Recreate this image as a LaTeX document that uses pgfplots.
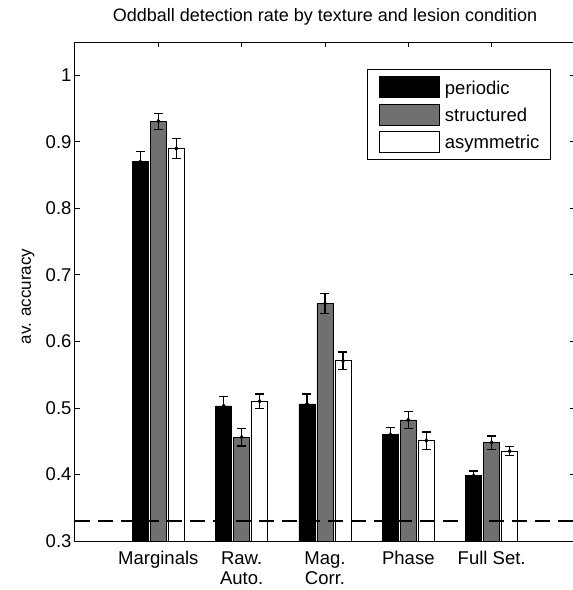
\documentclass[border=0pt]{standalone}
\usepackage{pgfplots}
\pgfplotsset{compat=1.18}
\usepackage{pgfplotstable}
\usepackage{fontspec}
\setmainfont{Liberation Sans}
\definecolor{midgray}{RGB}{112,112,112}

\pgfplotstableread{
x y e
1 0.870 0.015
2 0.503 0.014
3 0.506 0.015
4 0.460 0.011
5 0.398 0.007
}\periodic
\pgfplotstableread{
x y e
1 0.931 0.012
2 0.456 0.013
3 0.657 0.015
4 0.482 0.013
5 0.448 0.010
}\structured
\pgfplotstableread{
x y e
1 0.890 0.015
2 0.510 0.011
3 0.571 0.013
4 0.451 0.013
5 0.435 0.007
}\asymmetric

\begin{document}
\begin{tikzpicture}
\begin{axis}[
  name=ax,
  scale only axis, width=500pt, height=499pt,
  xmin=0, xmax=6, ymin=0.3, ymax=1.05,
  xtick={1,2,3,4,5},
  xticklabels={Marginals,{Raw.\\Auto.},{Mag.\\Corr.},Phase,{Full Set.}},
  ytick={0.3,0.4,0.5,0.6,0.7,0.8,0.9,1},
  /pgf/number format/assume math mode=true,
  xticklabel style={align=center, font=\fontsize{18.5}{20.5}\selectfont, yshift=-7pt},
  yticklabel style={font=\fontsize{18.5}{22}\selectfont},
  axis line style={line width=1pt, black},
  major tick length=5pt,
  tick style={line width=0.8pt, black},
  title={Oddball detection rate by texture and lesion condition},
  title style={at={(axis description cs:0.5,1.03)}, anchor=base, font=\fontsize{18}{20}\selectfont},
  ylabel={av. accuracy},
  ylabel style={at={(axis description cs:-0.094,0.49)}, anchor=center, font=\fontsize{17}{20}\selectfont},
  legend style={at={(rel axis cs:0.952,0.946)}, anchor=north east, draw=black, line width=1pt,
    font=\fontsize{18.5}{20}\selectfont, inner xsep=11pt, inner ysep=7pt,
    nodes={inner sep=0pt, anchor=base west}, column sep=5.3pt, row sep=5.5pt},
  legend cell align=left,
  legend image code/.code={\draw[#1, line width=0.8pt, draw=black] (0pt,-3.7pt) rectangle (60pt,17.3pt);},
]
\addplot[ybar, bar width=16pt, bar shift=0pt, fill=black, draw=black, line width=0.8pt]
  table[x expr=\thisrow{x}-0.216, y=y] {\periodic};
\addlegendentry{periodic}
\addplot[ybar, bar width=16pt, bar shift=0pt, fill=midgray, draw=black, line width=0.8pt]
  table[x=x, y=y] {\structured};
\addlegendentry{structured}
\addplot[ybar, bar width=16pt, bar shift=0pt, fill=white, draw=black, line width=0.8pt]
  table[x expr=\thisrow{x}+0.216, y=y] {\asymmetric};
\addlegendentry{asymmetric}

\addplot[forget plot, only marks, mark=diamond*, mark size=2.2pt, black,
  error bars/.cd, y dir=both, y explicit,
  error bar style={line width=1.3pt, black},
  error mark options={rotate=90, mark size=4.5pt, line width=1.3pt, black}]
  table[x expr=\thisrow{x}-0.216, y=y, y error=e] {\periodic};
\addplot[forget plot, only marks, mark=diamond*, mark size=2.2pt, black,
  error bars/.cd, y dir=both, y explicit,
  error bar style={line width=1.3pt, black},
  error mark options={rotate=90, mark size=4.5pt, line width=1.3pt, black}]
  table[x=x, y=y, y error=e] {\structured};
\addplot[forget plot, only marks, mark=diamond*, mark size=2.2pt, black,
  error bars/.cd, y dir=both, y explicit,
  error bar style={line width=1.3pt, black},
  error mark options={rotate=90, mark size=4.5pt, line width=1.3pt, black}]
  table[x expr=\thisrow{x}+0.216, y=y, y error=e] {\asymmetric};

\addplot[forget plot, black, line width=1.3pt, dash pattern=on 15pt off 8pt]
  coordinates {(0,0.33) (6,0.33)};
\end{axis}
\pgfresetboundingbox
\path[use as bounding box] ([shift={(-75pt,-49pt)}]ax.south west) rectangle ([shift={(498pt,541pt)}]ax.south west);
\end{tikzpicture}
\end{document}
